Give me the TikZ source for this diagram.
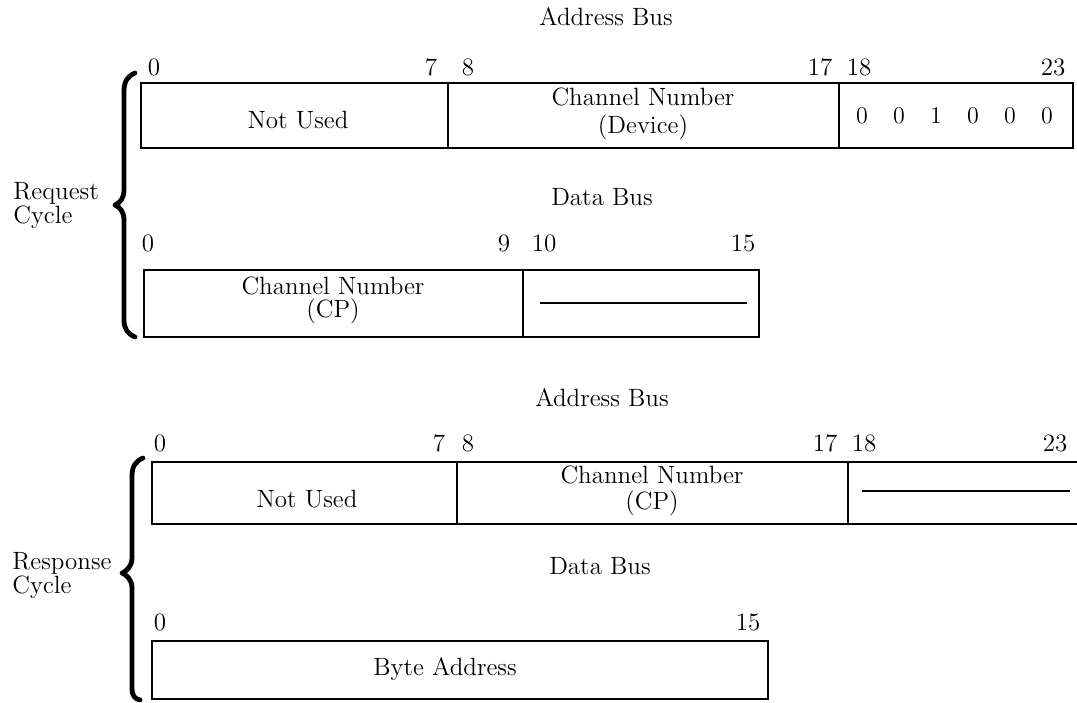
\documentclass[tikz,border=0pt]{standalone}
\begin{document}
\begin{tikzpicture}[x=0.5pt,y=-0.5pt,
  every node/.style={font=\fontsize{12.5}{14}\selectfont, inner sep=0pt},
  box/.style={line width=1pt},
  bar/.style={line width=1.3pt},
  brace/.style={line width=2.4pt, line cap=round, line join=round},
  num/.style={anchor=center},
  title/.style={anchor=center},
  field/.style={align=center, anchor=center}]
\useasboundingbox (0,0) rectangle (1077,702);

% ---------- Request cycle ----------
\node[title] (ab1) at (606,17) {Address Bus};
\node[num] (r1n0) at (154,67) {0};
\node[num] (r1n7) at (431,67) {7};
\node[num] (r1n8) at (468,67) {8};
\node[num] (r1n17) at (820,67) {17};
\node[num] (r1n18) at (859,67) {18};
\node[num] (r1n23) at (1053,67) {23};
\draw[box] (141,83) rectangle (1073,148);
\draw[box] (448,83) -- (448,148);
\draw[box] (839,83) -- (839,148);
\node[field] (nu1) at (298,120) {Not Used};
\node[field] (cnd) at (643,114) {Channel Number\\[0pt](Device)};
\foreach \xx [count=\i] in {862,899,936,973,1010,1047}{
  \pgfmathsetmacro{\bv}{\i==3 ? 1 : 0}
  \node[num] (bit\i) at (\xx,116) {\pgfmathprintnumber{\bv}};
}

\node[title] (db1) at (602,197) {Data Bus};
\node[num] (r2n0) at (148,243) {0};
\node[num] (r2n9) at (504,243) {9};
\node[num] (r2n10) at (544,243) {10};
\node[num] (r2n15) at (743,243) {15};
\draw[box] (144,270) rectangle (759,337);
\draw[box] (523,270) -- (523,337);
\node[field] (cncp1) at (333,300) {Channel Number\\[-2.5pt](CP)};
\coordinate (d1a) at (540,303);
\coordinate (d1b) at (747,303);
\draw[bar] (d1a) -- (d1b);

\node[align=left, anchor=west, font=\fontsize{12.5}{12}\selectfont] (req) at (13,206) {Request\\Cycle};
\coordinate (bq1) at (135,73);
\coordinate (bq2) at (115,205);
\coordinate (bq3) at (135,337);
\draw[brace] (bq1) .. controls (128,76) and (124,81) .. (124,91) -- (124,190)
  .. controls (124,198) and (120,203) .. (bq2)
  .. controls (120,207) and (124,212) .. (124,220) -- (124,320)
  .. controls (124,329) and (128,334) .. (bq3);

% ---------- Response cycle ----------
\node[title] (ab2) at (602,398) {Address Bus};
\node[num] (s1n0) at (160,443) {0};
\node[num] (s1n7) at (439,443) {7};
\node[num] (s1n8) at (468,443) {8};
\node[num] (s1n17) at (825,443) {17};
\node[num] (s1n18) at (864,443) {18};
\node[num] (s1n23) at (1055,443) {23};
\coordinate (s1tr) at (1077,462);
\coordinate (s1br) at (1077,524);
\draw[box] (s1tr) -- (152,462) -- (152,524) -- (s1br);
\draw[box] (457,462) -- (457,524);
\draw[box] (848,462) -- (848,524);
\node[field] (nu2) at (307,499) {Not Used};
\node[field] (cncp2) at (652,491) {Channel Number\\[-1pt](CP)};
\coordinate (d2a) at (862,491);
\coordinate (d2b) at (1070,491);
\draw[bar] (d2a) -- (d2b);

\node[title] (db2) at (600,566) {Data Bus};
\node[num] (s2n0) at (160,622) {0};
\node[num] (s2n15) at (748,622) {15};
\draw[box] (152,641) rectangle (768,699);
\node[field] (ba) at (445,669) {Byte Address};

\node[align=left, anchor=west, font=\fontsize{12.5}{12}\selectfont] (resp) at (12,576) {Response\\Cycle};
\coordinate (bs1) at (143,458);
\coordinate (bs2) at (122,573);
\coordinate (bs3) at (140,700);
\draw[brace] (bs1) .. controls (136,461) and (132,466) .. (132,476) -- (132,558)
  .. controls (132,566) and (127,571) .. (bs2)
  .. controls (127,575) and (132,580) .. (132,588) -- (132,688)
  .. controls (132,696) and (135,699) .. (bs3);
\end{tikzpicture}
\end{document}
